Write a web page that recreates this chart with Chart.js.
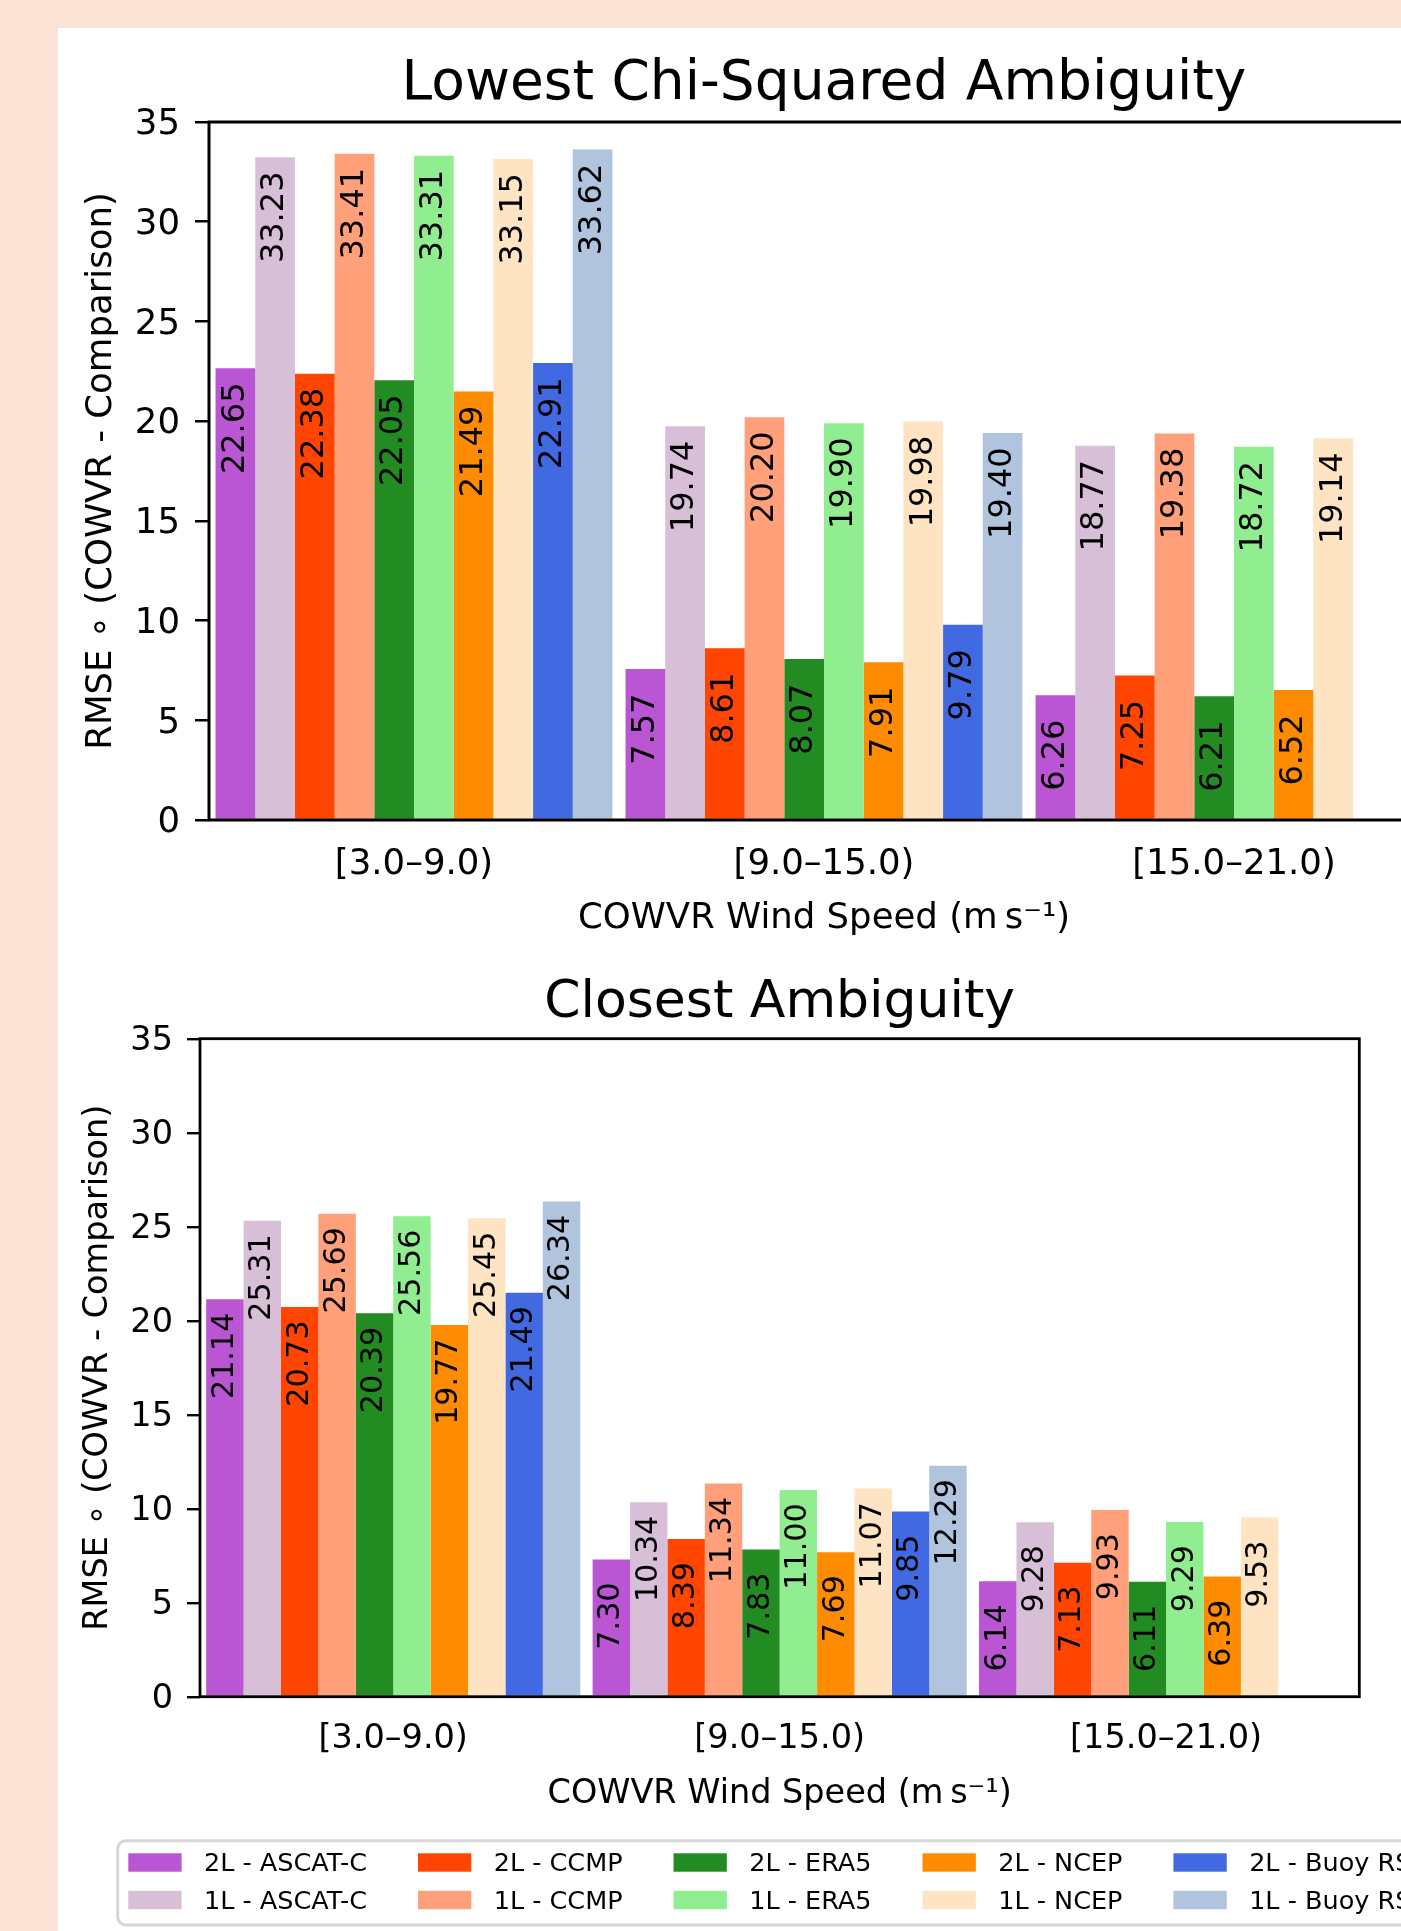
<!DOCTYPE html>
<html>
<head>
<meta charset="utf-8">
<title>COWVR wind direction RMSE</title>
<script src="https://cdn.jsdelivr.net/npm/chart.js@4.4.1/dist/chart.umd.min.js"></script>
<style>
  html, body { margin: 0; padding: 0; width: 1401px; height: 1931px; overflow: hidden; background: #FBE4D5; }
  #sheet { position: absolute; left: 58px; top: 28px; right: 0; bottom: 0; background: #ffffff; }
  #chiChart { position: absolute; left: 0; top: 0; }
  #closestChart { position: absolute; left: 0; top: 950px; }
</style>
</head>
<body>
<div id="sheet"></div>
<canvas id="chiChart" width="1460" height="940"></canvas>
<canvas id="closestChart" width="1401" height="981"></canvas>
<script>
// Wind-speed bins (m/s)
const windBins = ['[3.0\u20139.0)', '[9.0\u201315.0)', '[15.0\u201321.0)'];

const seriesNames = [
  '2L - ASCAT-C', '1L - ASCAT-C', '2L - CCMP', '1L - CCMP', '2L - ERA5',
  '1L - ERA5', '2L - NCEP', '1L - NCEP', '2L - Buoy RSS', '1L - Buoy RSS'
];
const seriesColors = [
  '#BA55D3', '#D8BFD8', '#FF4500', '#FFA07A', '#228B22',
  '#90EE90', '#FF8C00', '#FFE4C4', '#4169E1', '#B0C4DE'
];

// Direction RMSE (deg), lowest chi-squared ambiguity, one value per wind bin
const chi2L_ASCAT = [22.65, 7.57, 6.26];
const chi1L_ASCAT = [33.23, 19.74, 18.77];
const chi2L_CCMP  = [22.38, 8.61, 7.25];
const chi1L_CCMP  = [33.41, 20.20, 19.38];
const chi2L_ERA5  = [22.05, 8.07, 6.21];
const chi1L_ERA5  = [33.31, 19.90, 18.72];
const chi2L_NCEP  = [21.49, 7.91, 6.52];
const chi1L_NCEP  = [33.15, 19.98, 19.14];
const chi2L_BUOY  = [22.91, 9.79, null];
const chi1L_BUOY  = [33.62, 19.40, null];

// Direction RMSE (deg), closest ambiguity
const cls2L_ASCAT = [21.14, 7.30, 6.14];
const cls1L_ASCAT = [25.31, 10.34, 9.28];
const cls2L_CCMP  = [20.73, 8.39, 7.13];
const cls1L_CCMP  = [25.69, 11.34, 9.93];
const cls2L_ERA5  = [20.39, 7.83, 6.11];
const cls1L_ERA5  = [25.56, 11.00, 9.29];
const cls2L_NCEP  = [19.77, 7.69, 6.39];
const cls1L_NCEP  = [25.45, 11.07, 9.53];
const cls2L_BUOY  = [21.49, 9.85, null];
const cls1L_BUOY  = [26.34, 12.29, null];

// Y axis ticks
const yMin = 0;
const yMax = 35;
const yStep = 5;

const FONT = "'DejaVu Sans', 'Noto Sans', sans-serif";
Chart.defaults.font.family = FONT;
Chart.defaults.color = '#000';

function makeDatasets(rows) {
  return rows.map((data, i) => ({
    label: seriesNames[i],
    data: data,
    backgroundColor: seriesColors[i],
    borderWidth: 0,
    categoryPercentage: 0.968,
    barPercentage: 1.0
  }));
}

// Black box round the plot area, drawn over the bars
const frameBox = {
  id: 'frameBox',
  afterDatasetsDraw(chart, args, opts) {
    const { ctx, chartArea: a } = chart;
    ctx.save();
    ctx.strokeStyle = '#000';
    ctx.lineWidth = opts.width;
    ctx.strokeRect(a.left, a.top, a.right - a.left, a.bottom - a.top);
    ctx.restore();
  }
};

// Rotated value labels inside each bar, just under its top
const valueLabels = {
  id: 'valueLabels',
  afterDatasetsDraw(chart, args, opts) {
    const ctx = chart.ctx;
    ctx.save();
    ctx.font = opts.size + 'px ' + FONT;
    ctx.fillStyle = '#000';
    ctx.textAlign = 'center';
    ctx.textBaseline = 'middle';
    chart.data.datasets.forEach((ds, i) => {
      const meta = chart.getDatasetMeta(i);
      meta.data.forEach((bar, j) => {
        const v = ds.data[j];
        if (v === null || v === undefined) return;
        ctx.save();
        ctx.translate(bar.x, bar.y + opts.drop);
        ctx.rotate(-Math.PI / 2);
        ctx.fillText(v.toFixed(2), 0, 0);
        ctx.restore();
      });
    });
    ctx.restore();
  }
};

// Two-row legend filled column by column
const columnLegend = {
  id: 'columnLegend',
  afterDraw(chart, args, o) {
    if (!o.enabled) return;
    const ctx = chart.ctx;
    const items = chart.data.datasets;
    ctx.save();
    ctx.strokeStyle = '#d6d6d6';
    ctx.lineWidth = 3;
    ctx.beginPath();
    ctx.roundRect(o.left, o.top, o.width, o.height, 8);
    ctx.stroke();
    ctx.font = o.fontSize + 'px ' + FONT;
    ctx.textAlign = 'left';
    ctx.textBaseline = 'middle';
    const rows = 2;
    const cols = Math.ceil(items.length / rows);
    let x = o.firstX;
    for (let c = 0; c < cols; c++) {
      let widest = 0;
      for (let r = 0; r < rows; r++) {
        const ds = items[c * rows + r];
        if (!ds) continue;
        const cy = o.rowY[r];
        ctx.fillStyle = ds.backgroundColor;
        ctx.fillRect(x, cy - o.swatchH / 2, o.swatchW, o.swatchH);
        ctx.fillStyle = '#000';
        ctx.fillText(ds.label, x + o.textGap, cy + 2);
        widest = Math.max(widest, ctx.measureText(ds.label).width);
      }
      x += o.textGap + widest + o.colGap;
    }
    ctx.restore();
  }
};

function buildChart(canvasId, titleText, rows, geo) {
  return new Chart(document.getElementById(canvasId), {
    type: 'bar',
    data: { labels: windBins, datasets: makeDatasets(rows) },
    plugins: [valueLabels, frameBox, columnLegend],
    options: {
      responsive: false,
      animation: false,
      devicePixelRatio: 1,
      layout: { padding: geo.padding },
      scales: {
        x: {
          type: 'category',
          offset: true,
          grid: { display: false, drawTicks: false },
          border: { display: false },
          ticks: { font: { size: geo.axisPx }, padding: geo.xTickPad, color: '#000' },
          title: {
            display: true,
            text: 'COWVR Wind Speed (m\u2009s\u207B\u00B9)',
            font: { size: geo.axisPx },
            color: '#000',
            padding: { top: 0, bottom: geo.xTitlePad }
          },
          afterFit(scale) { scale.height = geo.xHeight; }
        },
        y: {
          min: yMin,
          max: yMax,
          grid: {
            drawOnChartArea: false,
            drawTicks: true,
            tickLength: geo.tickLen,
            lineWidth: geo.tickWidth,
            color: '#000'
          },
          border: { display: false },
          ticks: { stepSize: yStep, font: { size: geo.axisPx }, padding: geo.yTickPad, labelOffset: 3, color: '#000' },
          title: {
            display: true,
            text: 'RMSE \u2218 (COWVR - Comparison)',
            font: { size: geo.axisPx },
            color: '#000',
            padding: { top: geo.yTitlePad, bottom: 0 }
          },
          afterFit(scale) { scale.width = geo.yWidth; }
        }
      },
      plugins: {
        legend: { display: false },
        tooltip: { enabled: false },
        title: {
          display: true,
          fullSize: false,
          text: titleText,
          color: '#000',
          font: { size: geo.titlePx, weight: 'normal' },
          padding: geo.titlePad
        },
        frameBox: { width: geo.frameWidth },
        valueLabels: { drop: geo.labelDrop, size: geo.labelPx },
        columnLegend: geo.legend
      }
    }
  });
}

buildChart('chiChart', 'Lowest Chi-Squared Ambiguity',
  [chi2L_ASCAT, chi1L_ASCAT, chi2L_CCMP, chi1L_CCMP, chi2L_ERA5,
   chi1L_ERA5, chi2L_NCEP, chi1L_NCEP, chi2L_BUOY, chi1L_BUOY],
  {
    padding: { left: 0, right: 21, top: 0, bottom: 0 },
    yWidth: 209, xHeight: 120,
    axisPx: 35.5, titlePx: 55, labelPx: 32,
    tickLen: 14, tickWidth: 2.5, yTickPad: 15, frameWidth: 3,
    xTickPad: 23.7, xTitlePad: 0, yTitlePad: 80.7,
    titlePad: { top: 52, bottom: 4 },
    labelDrop: 60,
    legend: { enabled: false }
  });

buildChart('closestChart', 'Closest Ambiguity',
  [cls2L_ASCAT, cls1L_ASCAT, cls2L_CCMP, cls1L_CCMP, cls2L_ERA5,
   cls1L_ERA5, cls2L_NCEP, cls1L_NCEP, cls2L_BUOY, cls1L_BUOY],
  {
    padding: { left: 0, right: 41.7, top: 0, bottom: 114.3 },
    yWidth: 200, xHeight: 120,
    axisPx: 33.5, titlePx: 52, labelPx: 30.2,
    tickLen: 13, tickWidth: 2.4, yTickPad: 14, frameWidth: 2.8,
    xTickPad: 22.2, xTitlePad: 2.6, yTitlePad: 77.9,
    titlePad: { top: 22.6, bottom: 3.7 },
    labelDrop: 56.6,
    legend: {
      enabled: true,
      left: 117.7, top: 890.7, width: 1400, height: 84.3,
      firstX: 128.3, rowY: [912.5, 950],
      swatchW: 53.3, swatchH: 18.4, textGap: 75.7, colGap: 51,
      fontSize: 25.5
    }
  });
</script>
</body>
</html>
